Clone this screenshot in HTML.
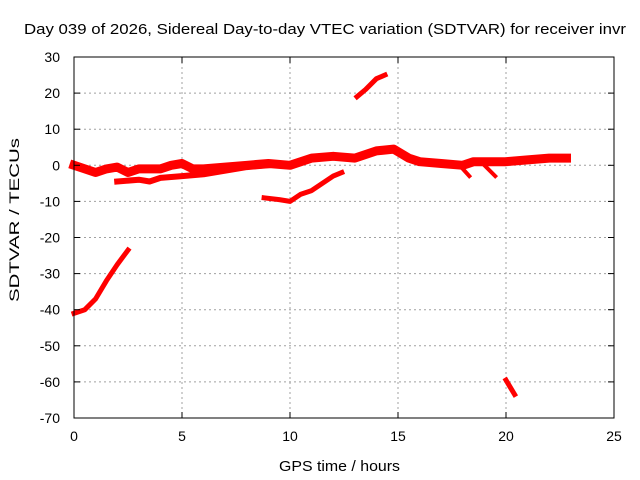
<!DOCTYPE html>
<html><head><meta charset="utf-8"><style>
body{margin:0;background:#fff;}
svg{display:block;font-family:"Liberation Sans",sans-serif;}
</style></head><body>
<svg id="chart" width="640" height="480" viewBox="0 0 640 480">
<rect width="640" height="480" fill="#fff"/>
<text x="24" y="34" font-size="15" textLength="602" lengthAdjust="spacingAndGlyphs">Day 039 of 2026, Sidereal Day-to-day VTEC variation (SDTVAR) for receiver invr</text>
<text x="279" y="471" font-size="15" textLength="121" lengthAdjust="spacingAndGlyphs">GPS time / hours</text>
<text transform="translate(19,302) rotate(-90)" font-size="14" textLength="164" lengthAdjust="spacingAndGlyphs">SDTVAR / TECUs</text>
<g id="grid"></g><g id="series"></g><g id="axes"></g>
</svg>
<script>
const xTicks=[0,5,10,15,20,25];
const yTicks=[30,20,10,0,-10,-20,-30,-40,-50,-60,-70];
const segHours=[
 [0,0.5,1,1.5,2,2.5,3,3.5,4,4.5,5,5.5,6,7,8,9,10,11,12,13,14,14.8,15.5,16,17,18,18.5,19,20,21,22,22.8],
 [2,3,3.5,4,5,6,7,8,9],
 [18,18.3],
 [19,19.5],
 [8.8,9.5,10,10.5,11,11.5,12,12.4],
 [13.1,13.5,14,14.4],
 [0,0.5,1,1.5,2,2.5],
 [20,20.2,20.4]
];
const segValues=[
 [0,-1,-2,-1,-0.5,-2,-1,-1,-1,0,0.5,-1,-1,-0.5,0,0.5,0,2,2.5,2,4,4.5,2,1,0.5,0,1,1,1,1.5,2,2],
 [-4.5,-4,-4.5,-3.5,-3,-2.5,-1.5,-0.5,0],
 [-1,-3],
 [0,-3],
 [-9,-9.5,-10,-8,-7,-5,-3,-2],
 [19,21,24,25],
 [-41,-40,-37,-32,-27.5,-23.5],
 [-59.5,-61.5,-63.5]
];
const segWidths=[9,6,4,4,5,5,5,5];
const X0=74,X1=614,Y0=57,Y1=418;
const xs=h=>X0+(h-0)/(25-0)*(X1-X0);
const ys=v=>Y0+(30-v)/(100)*(Y1-Y0);
const NS="http://www.w3.org/2000/svg";
const grid=document.getElementById('grid'),axes=document.getElementById('axes'),ser=document.getElementById('series');
function mk(tag,at,p){const e=document.createElementNS(NS,tag);for(const k in at)e.setAttribute(k,at[k]);p.appendChild(e);return e;}
xTicks.forEach(t=>{const x=xs(t);
 if(t>0&&t<25){const g=mk('line',{x1:x,x2:x,y1:Y0,y2:Y1,stroke:'#a0a0a0','stroke-dasharray':'2,3'},grid);
 
 }
 mk('line',{x1:x,x2:x,y1:Y1,y2:Y1-6,stroke:'#000'},axes);mk('line',{x1:x,x2:x,y1:Y0,y2:Y0+6,stroke:'#000'},axes);
 const l=mk('text',{x:x,y:Y1+23,'font-size':14,'text-anchor':'middle'},axes);l.textContent=t;
 
 });
yTicks.forEach(t=>{const y=ys(t);
 if(t<30&&t>-70){const g=mk('line',{x1:X0,x2:X1,y1:y,y2:y,stroke:'#a0a0a0','stroke-dasharray':'2,3'},grid);
 
 }
 mk('line',{x1:X0,x2:X0+6,y1:y,y2:y,stroke:'#000'},axes);mk('line',{x1:X1,x2:X1-6,y1:y,y2:y,stroke:'#000'},axes);
 const l=mk('text',{x:X0-14,y:y+5,'font-size':14,'text-anchor':'end'},axes);l.textContent=t;
 
 });
const fr=mk('rect',{x:X0,y:Y0,width:X1-X0,height:Y1-Y0,fill:'none',stroke:'#000'},axes);


segHours.forEach((hs,i)=>{const pts=hs.map((h,j)=>xs(h).toFixed(1)+','+ys(segValues[i][j]).toFixed(1)).join(' ');
 const p=mk('polyline',{points:pts,fill:'none',stroke:'#ff0000','stroke-width':segWidths[i],'stroke-linejoin':'round','stroke-linecap':'square'},ser);
 
 });
</script>
</body></html>
